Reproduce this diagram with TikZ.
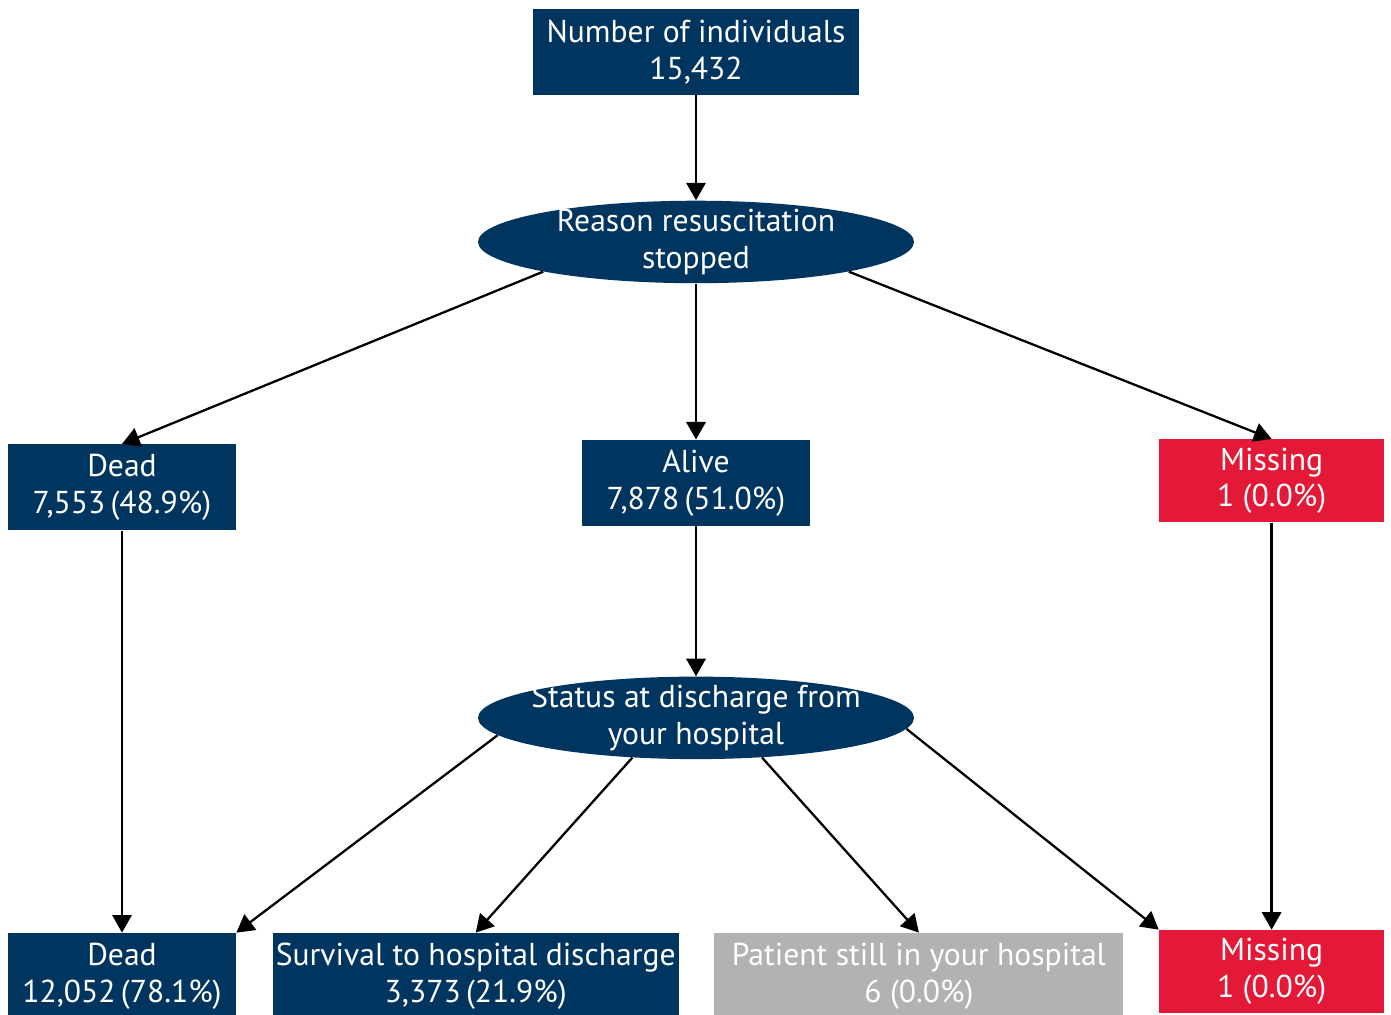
\documentclass[tikz,border=0pt]{standalone}
\usepackage{fontspec}
\setmainfont{PT Sans}
\usetikzlibrary{arrows.meta,positioning,shapes.geometric}
\definecolor{navy}{RGB}{0,53,96}
\definecolor{alarm}{RGB}{227,25,55}
\definecolor{still}{RGB}{178,178,178}
\begin{document}
\begin{tikzpicture}[>={Triangle[length=10pt,width=11pt]}]
        \tikzset{block/.style= {fill=navy, rectangle, align=center, text=white, inner sep=0pt,
            font=\fontsize{18}{21}\selectfont, minimum width=4.56cm, minimum height=1.72cm},
        mblock/.style= {block, fill=alarm, minimum width=4.5cm, minimum height=1.66cm},
        gblock/.style= {block, fill=still},
        eblock/.style= {block, ellipse, inner xsep=-1cm, inner ysep=-0.4cm, minimum width=8.72cm, minimum height=1.65cm},
        flow/.style= {draw, ->, line width=1.3pt},
        }
        \path[use as bounding box, clip] (0,0) rectangle (27.82,-20.28);

        \node [block, minimum width=6.52cm] (count) at (13.92,-1.04) {Number of individuals\\15,432};
        \node [eblock, below=2.1cm of count] (reason) {Reason resuscitation\\stopped};
        \node [block, below=3.12cm of reason] (alive) {Alive\\7,878\,(51.0\%)};
        \node [eblock, below=3cm of alive] (status) {Status at discharge from\\your hospital};

        \node [block] (dead_end) at (2.44,-19.52) {Dead\\12,052\,(78.1\%)};
        \node [block, right=0.72cm of dead_end, minimum width=8.12cm] (survival) {Survival to hospital discharge\\3,373\,(21.9\%)};
        \node [gblock, right=0.7cm of survival, minimum width=8.18cm] (patient) {Patient still in your hospital\\6 (0.0\%)};
        \node [mblock, right=0.7cm of patient, yshift=0.09cm] (miss_end) {Missing\\1 (0.0\%)};

        \node [block, above=8.04cm of dead_end] (dead) {Dead\\7,553\,(48.9\%)};
        \node [mblock, above=8.14cm of miss_end] (miss) {Missing\\1 (0.0\%)};

%% paths
        \path[every edge/.style={flow}]
                    (count) edge (reason)
                    (reason.191) edge (dead.north)
                    (reason.south) edge (alive.north)
                    (reason.349) edge (miss.north)
                    (dead) edge (dead_end)
                    (alive) edge (status)
                    (miss) edge (miss_end)
                    (status.185) edge (dead_end.north east)
                    (status.212) edge (survival.north)
                    (status.329) edge (patient.north)
                    (status.357) edge (miss_end.north west)
                    ;
\end{tikzpicture}
\end{document}
